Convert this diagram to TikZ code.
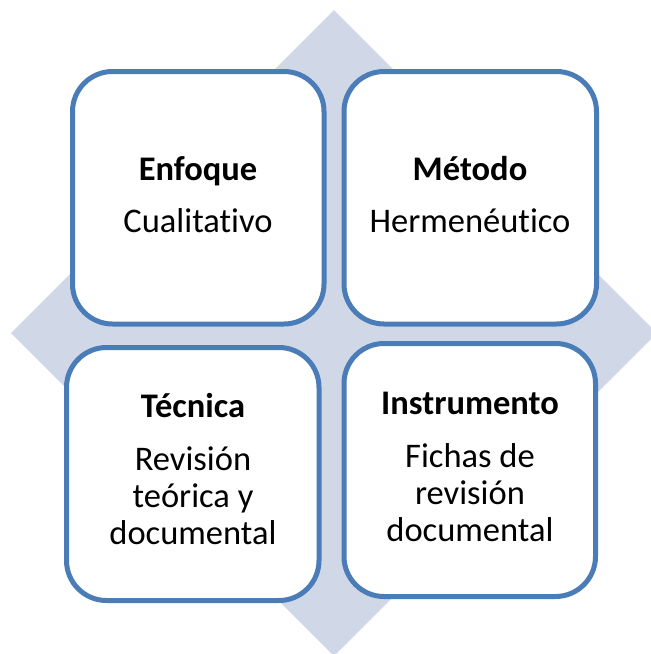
\documentclass[tikz,border=0pt]{standalone}
\usepackage{fontspec}
\setmainfont{Carlito}[Ligatures=NoCommon]
\definecolor{diamfill}{RGB}{208,216,232}
\definecolor{boxedge}{RGB}{74,124,184}
\begin{document}
\begin{tikzpicture}[x=1pt,y=-1pt,
  box/.style={draw=boxedge, line width=5pt, fill=white, rounded corners=40pt, inner sep=0pt},
  txt/.style={anchor=base, inner sep=0pt, font=\fontsize{34.5}{37}\selectfont},
  hd/.style={anchor=base, inner sep=0pt, font=\fontsize{34.5}{37}\selectfont\bfseries}]
\useasboundingbox (0,0) rectangle (651,654);
\begin{scope}
  \clip (0,0) rectangle (651,654);
  \fill[diamfill] (334,10) -- (11,333) -- (334,656) -- (657,333) -- cycle;
\end{scope}
% boxes
\node[box, minimum width=251.5pt, minimum height=252.5pt] (tl) at (198.25,197.75) {};
\node[box, minimum width=252.5pt, minimum height=252.5pt] (tr) at (470.25,197.75) {};
\node[box, minimum width=252.5pt, minimum height=253pt] (bl) at (192.75,474) {};
\node[box, minimum width=251.5pt, minimum height=253pt] (br) at (469.75,470) {};
% texts
\node[hd]  (tlh) at (198,180.5) {Enfoque};
\node[txt] (tl1) at (198,232) {Cualitativo};
\node[hd]  (trh) at (470,180.5) {Método};
\node[txt] (tr1) at (470,232) {Hermenéutico};
\node[hd]  (blh) at (193,417) {Técnica};
\node[txt] (bl1) at (193,470) {Revisión};
\node[txt] (bl2) at (193,507) {teórica y};
\node[txt] (bl3) at (193,544) {documental};
\node[hd]  (brh) at (470,414) {Instrumento};
\node[txt] (br1) at (470,467) {Fichas de};
\node[txt] (br2) at (470,504) {revisión};
\node[txt] (br3) at (470,541) {documental};
\end{tikzpicture}
\end{document}
